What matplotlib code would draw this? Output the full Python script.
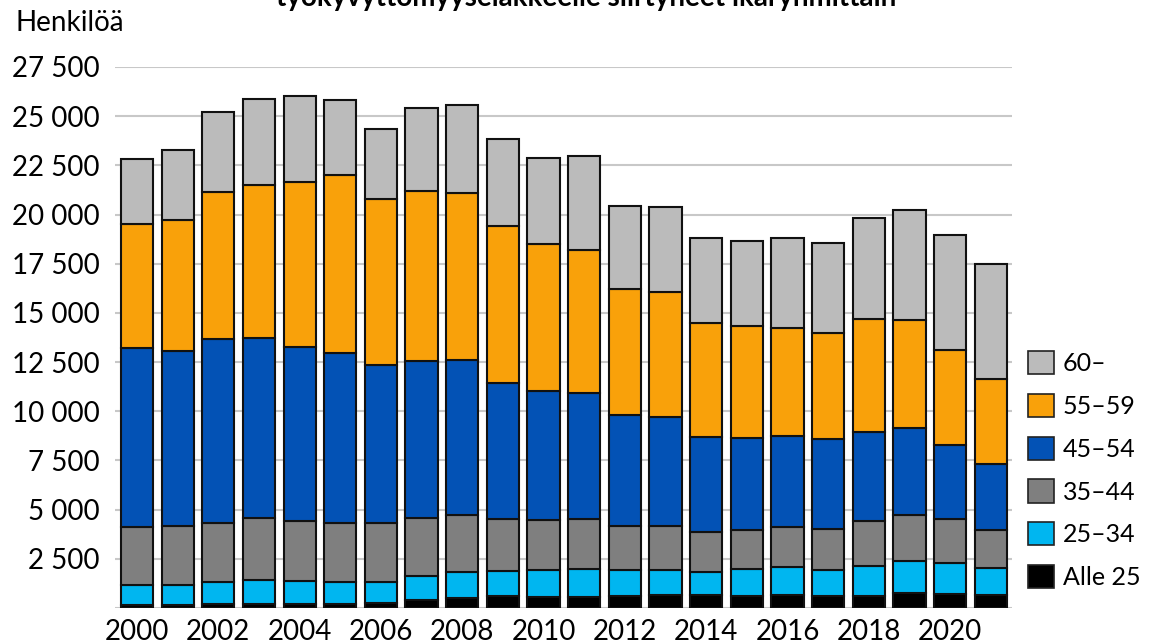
import numpy as np
import matplotlib.pyplot as plt
from matplotlib.patches import Patch

plt.rcParams['font.family'] = ['Lato', 'DejaVu Sans']

years = list(range(2000, 2022))

# henkilöä per ikäryhmä (luettu kuvasta)
alle25 = [170, 170, 180, 200, 200, 180, 270, 400, 520, 600, 570,
          570, 630, 650, 650, 620, 680, 620, 630, 780, 700, 670]
v25_34 = [1000, 1020, 1130, 1220, 1150, 1130, 1050, 1220, 1330, 1270, 1380,
          1430, 1320, 1300, 1200, 1370, 1420, 1330, 1480, 1620, 1580, 1370]
v35_44 = [2950, 2980, 3030, 3170, 3080, 3000, 3000, 2930, 2880, 2670, 2530,
          2530, 2220, 2220, 2000, 1950, 2000, 2080, 2330, 2350, 2230, 1950]
v45_54 = [9110, 8890, 9320, 9140, 8850, 8660, 8010, 7990, 7860, 6890, 6530,
          6380, 5620, 5520, 4830, 4700, 4630, 4550, 4530, 4380, 3800, 3320]
v55_59 = [6280, 6670, 7490, 7790, 8350, 9040, 8470, 8670, 8500, 8010, 7500,
          7300, 6440, 6350, 5790, 5700, 5520, 5390, 5720, 5490, 4810, 4310]
v60 = [3290, 3560, 4040, 4370, 4370, 3810, 3570, 4180, 4490, 4420, 4370,
       4760, 4200, 4320, 4320, 4290, 4570, 4600, 5150, 5620, 5840, 5840]

labels = ['Alle 25', '25–34', '35–44', '45–54', '55–59', '60–']
series = [alle25, v25_34, v35_44, v45_54, v55_59, v60]
colors = ['#000000', '#00B6F0', '#7F7F7F', '#0352B5', '#F9A10A', '#BBBBBB']

fig = plt.figure(figsize=(11.6, 6.44), dpi=100)
ax = fig.add_axes([0.0991, 0.0559, 0.7733, 0.8401])

bottom = np.zeros(len(years))
for vals, col in zip(series, colors):
    ax.bar(years, vals, width=0.79, bottom=bottom, color=col,
           edgecolor='#111111', linewidth=1.5, zorder=3)
    bottom += np.array(vals)

ax.set_xlim(1999.46, 2021.52)
ax.set_ylim(0, 27500)
ax.set_yticks(np.arange(2500, 27501, 2500))
ax.set_yticklabels([f'{int(v):,}'.replace(',', ' ') for v in np.arange(2500, 27501, 2500)])
ax.set_xticks(range(2000, 2021, 2))
ax.tick_params(axis='both', length=0, labelsize=20)
ax.tick_params(axis='y', pad=11)
ax.tick_params(axis='x', pad=8)
ax.yaxis.grid(True, color='#C8C8C8', linewidth=1.5, zorder=0)
ax.axhline(0, color='#C8C8C8', linewidth=1.5, zorder=0)
for s in ax.spines.values():
    s.set_visible(False)

fig.text(0.013, 0.965, 'Henkilöä', fontsize=20, ha='left', va='center')
fig.text(0.505, 1 - 6 / 644, 'työkyvyttömyyseläkkeelle siirtyneet ikäryhmittäin',
         fontsize=20, fontweight='bold', ha='center', va='baseline')

handles = [Patch(facecolor=c, edgecolor='#222222', linewidth=1.2, label=l)
           for c, l in zip(colors[::-1], labels[::-1])]
fig.legend(handles=handles, loc='lower left', bbox_to_anchor=(0.886, 0.085),
           frameon=False, fontsize=18, handlelength=1.05, handleheight=1.05,
           handletextpad=0.35, labelspacing=0.75, borderpad=0, borderaxespad=0)

fig.savefig('out.png', dpi=100)
